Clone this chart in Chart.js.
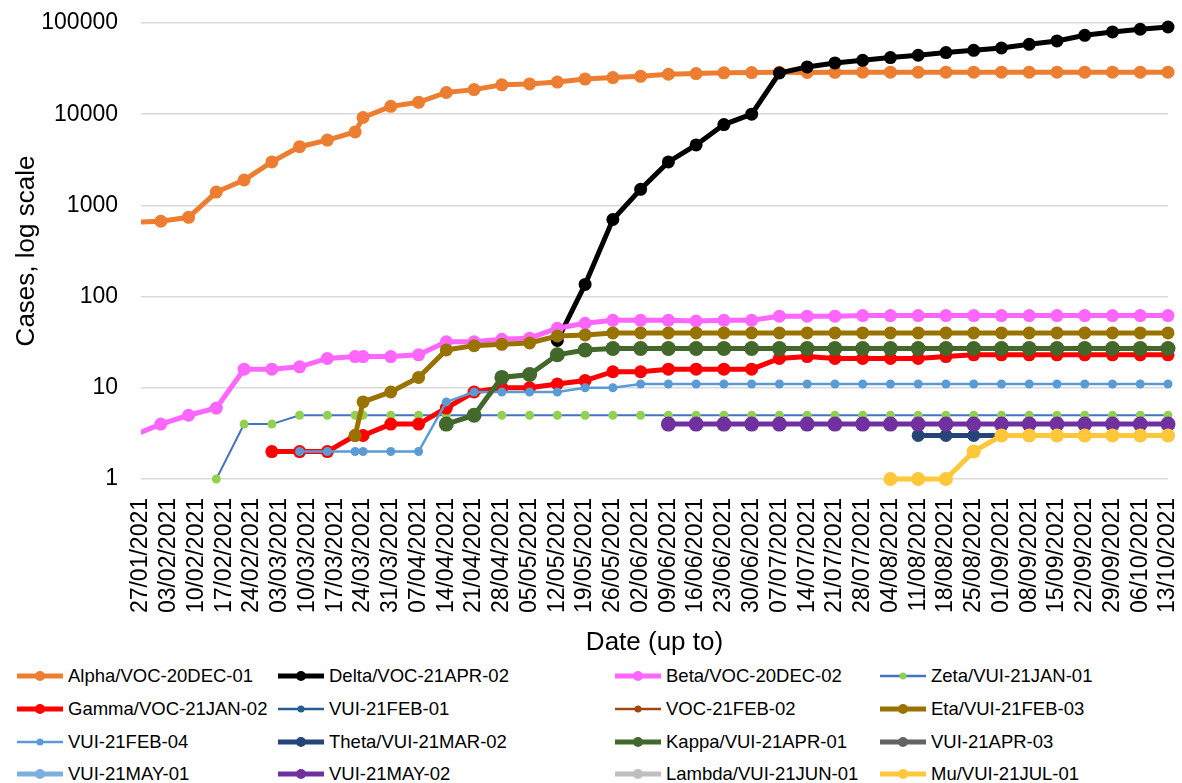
<!DOCTYPE html>
<html>
<head>
<meta charset="utf-8">
<script src="https://cdn.jsdelivr.net/npm/chart.js@4.4.0/dist/chart.umd.min.js"></script>
<style>
  html, body { margin: 0; padding: 0; background: #fff; }
  #wrap { position: relative; width: 1182px; height: 783px; font-family: "Liberation Sans", Arial, sans-serif; }
  #chart { position: absolute; left: 0; top: 0; }
  .lg { position: absolute; height: 30px; display: flex; align-items: center; font-size: 18.5px; color: #000; white-space: nowrap; }
  .lg svg { margin-right: 5px; }
</style>
</head>
<body>
<div id="wrap">
  <canvas id="chart" width="1182" height="660" style="width:1182px;height:660px"></canvas>
  <div id="legend"></div>
</div>
<script>
/* Data section */
var _ = null;
var axisStart = '27/01/2021';
var axisEnd = '13/10/2021';
var yTicks = [1, 10, 100, 1000, 10000, 100000];

var reportDates = ['25/01/2021', '01/02/2021', '08/02/2021', '15/02/2021', '22/02/2021', '01/03/2021', '08/03/2021',
    '15/03/2021', '22/03/2021', '24/03/2021', '31/03/2021', '07/04/2021', '14/04/2021', '21/04/2021', '28/04/2021',
    '05/05/2021', '12/05/2021', '19/05/2021', '26/05/2021', '02/06/2021', '09/06/2021', '16/06/2021', '23/06/2021',
    '30/06/2021', '07/07/2021', '14/07/2021', '21/07/2021', '28/07/2021', '04/08/2021', '11/08/2021', '18/08/2021',
    '25/08/2021', '01/09/2021', '08/09/2021', '15/09/2021', '22/09/2021', '29/09/2021', '06/10/2021', '13/10/2021'];

var alpha = [650, 670, 740, 1400, 1900, 3000, 4400, 5200, 6400, 9200, 12200, 13500, 17300, 18600, 21000, 21500,
    22500, 24300, 25200, 26000, 27400, 27900, 28400, 28600, 28800, 28700, 28800, 28900, 28900, 28900, 28900,
    28900, 28900, 28900, 28900, 28900, 28900, 28900, 28900];
var delta = [_, _, _, _, _, _, _, _, _, _, _, _, _, _, _, _, 33, 136, 700, 1500, 3000, 4600, 7700, 10000, 28300,
    33000, 36500, 39000, 41800, 44300, 47400, 50200, 53200, 58400, 63600, 73300, 79800, 85400, 90400];
var beta = [3, 4, 5, 6, 16, 16, 17, 21, 22, 22, 22, 23, 32, 32, 34, 35, 45, 51, 55, 55, 55, 54, 55, 55, 61, 61, 61,
    62, 62, 62, 62, 62, 62, 62, 62, 62, 62, 62, 62];
var zeta = [_, _, _, 1, 4, 4, 5, 5, 5, 5, 5, 5, 5, 5, 5, 5, 5, 5, 5, 5, 5, 5, 5, 5, 5, 5, 5, 5, 5, 5, 5, 5, 5, 5,
    5, 5, 5, 5, 5];
var gamma = [_, _, _, _, _, 2, 2, 2, 3, 3, 4, 4, 6, 9, 10, 10, 11, 12, 15, 15, 16, 16, 16, 16, 21, 22, 21, 21, 21,
    21, 22, 23, 23, 23, 23, 23, 23, 23, 23];
var eta = [_, _, _, _, _, _, _, _, 3, 7, 9, 13, 26, 29, 30, 31, 37, 38, 40, 40, 40, 40, 40, 40, 40, 40, 40, 40, 40,
    40, 40, 40, 40, 40, 40, 40, 40, 40, 40];
var feb04 = [_, _, _, _, _, _, 2, 2, 2, 2, 2, 2, 7, 9, 9, 9, 9, 10, 10, 11, 11, 11, 11, 11, 11, 11, 11, 11, 11, 11,
    11, 11, 11, 11, 11, 11, 11, 11, 11];
var theta = [_, _, _, _, _, _, _, _, _, _, _, _, _, _, _, _, _, _, _, _, _, _, _, _, _, _, _, _, _, 3, 3, 3, 3, 3,
    3, 3, 3, 3, 3];
var kappa = [_, _, _, _, _, _, _, _, _, _, _, _, 4, 5, 13, 14, 23, 26, 27, 27, 27, 27, 27, 27, 27, 27, 27, 27, 27,
    27, 27, 27, 27, 27, 27, 27, 27, 27, 27];
var may02 = [_, _, _, _, _, _, _, _, _, _, _, _, _, _, _, _, _, _, _, _, 4, 4, 4, 4, 4, 4, 4, 4, 4, 4, 4, 4, 4, 4,
    4, 4, 4, 4, 4];
var mu = [_, _, _, _, _, _, _, _, _, _, _, _, _, _, _, _, _, _, _, _, _, _, _, _, _, _, _, _, 1, 1, 1, 2, 3, 3, 3,
    3, 3, 3, 3];
var noData = [];

/* Series styles, in legend order */
var series = [
    { label: 'Alpha/VOC-20DEC-01', data: alpha, color: '#ED7D31', width: 5, radius: 6.5 },
    { label: 'Delta/VOC-21APR-02', data: delta, color: '#000000', width: 5, radius: 6.5 },
    { label: 'Beta/VOC-20DEC-02', data: beta, color: '#FF66FF', width: 5, radius: 6.5 },
    { label: 'Zeta/VUI-21JAN-01', data: zeta, color: '#4472C4', marker: '#92D050', width: 2, radius: 4.5 },
    { label: 'Gamma/VOC-21JAN-02', data: gamma, color: '#FF0000', width: 5, radius: 6.5 },
    { label: 'VUI-21FEB-01', data: noData, color: '#255E91', width: 2, radius: 4 },
    { label: 'VOC-21FEB-02', data: noData, color: '#9E480E', width: 2, radius: 4 },
    { label: 'Eta/VUI-21FEB-03', data: eta, color: '#997300', width: 5, radius: 6.5 },
    { label: 'VUI-21FEB-04', data: feb04, color: '#5B9BD5', width: 2.5, radius: 4.5 },
    { label: 'Theta/VUI-21MAR-02', data: theta, color: '#264478', width: 5, radius: 6.5 },
    { label: 'Kappa/VUI-21APR-01', data: kappa, color: '#43682B', width: 5, radius: 7.5 },
    { label: 'VUI-21APR-03', data: noData, color: '#636363', width: 5, radius: 6.5 },
    { label: 'VUI-21MAY-01', data: noData, color: '#7CAFDD', width: 5, radius: 6.5 },
    { label: 'VUI-21MAY-02', data: may02, color: '#7030A0', width: 5, radius: 7.5 },
    { label: 'Lambda/VUI-21JUN-01', data: noData, color: '#BFBFBF', width: 5, radius: 6.5 },
    { label: 'Mu/VUI-21JUL-01', data: mu, color: '#FFC83A', width: 5, radius: 7 }
];

/* Date helpers */
function toUTC(s) {
    var p = s.split('/');
    return Date.UTC(+p[2], +p[1] - 1, +p[0]);
}
var DAY = 86400000;
var t0 = toUTC(axisStart);
function dayOf(s) { return Math.round((toUTC(s) - t0) / DAY); }
function fmtDay(v) {
    var d = new Date(t0 + v * DAY);
    var dd = String(d.getUTCDate()).padStart(2, '0');
    var mm = String(d.getUTCMonth() + 1).padStart(2, '0');
    return dd + '/' + mm + '/' + d.getUTCFullYear();
}

/* Chart section */
Chart.defaults.font.family = '"Liberation Sans", Arial, sans-serif';
Chart.defaults.color = '#000';

var datasets = series.map(function (s, i) {
    var pts = [];
    s.data.forEach(function (v, k) {
        if (v !== null) pts.push({ x: dayOf(reportDates[k]), y: v });
    });
    return {
        label: s.label,
        data: pts,
        borderColor: s.color,
        backgroundColor: s.marker || s.color,
        pointBackgroundColor: s.marker || s.color,
        pointBorderColor: s.marker || s.color,
        pointBorderWidth: 0,
        pointRadius: s.radius,
        borderWidth: s.width,
        tension: 0,
        order: -i,   // later series drawn on top, like the original
        clip: { left: 0, top: 12, right: 12, bottom: 12 }
    };
});

var ctx = document.getElementById('chart').getContext('2d');
var myChart = new Chart(ctx, {
    type: 'line',
    data: { datasets: datasets },
    options: {
        responsive: false,
        animation: false,
        layout: { padding: { top: 23, right: 14, bottom: 0, left: 0 } },
        plugins: { legend: { display: false }, tooltip: { enabled: false } },
        scales: {
            x: {
                type: 'linear',
                min: 0,
                max: dayOf(axisEnd),
                grid: { display: false, drawTicks: false },
                border: { display: false },
                ticks: {
                    stepSize: 7, autoSkip: false, maxRotation: 90, minRotation: 90,
                    padding: 19, font: { size: 23 }, color: '#000',
                    callback: function (v) { return fmtDay(v); }
                },
                title: { display: true, text: 'Date (up to)', font: { size: 26 }, color: '#000', padding: { top: 0, bottom: 2 } },
                afterFit: function (s) { s.height = 181; s.paddingLeft = 0; s.paddingRight = 0; }
            },
            y: {
                type: 'logarithmic',
                min: 1,
                max: 100000,
                afterBuildTicks: function (s) { s.ticks = yTicks.map(function (v) { return { value: v }; }); },
                grid: { color: '#D9D9D9', lineWidth: 1.5, drawTicks: false },
                border: { display: false },
                ticks: { padding: 23, font: { size: 23 }, color: '#000', callback: function (v) { return String(v); } },
                title: { display: true, text: 'Cases, log scale', font: { size: 26 }, color: '#000', padding: { top: 11, bottom: 0 } },
                afterFit: function (s) { s.width = 141; s.paddingTop = 0; s.paddingBottom = 0; }
            }
        }
    }
});

/* Legend section: 4 columns like the original */
var colX = [17, 278, 615, 880];
var rowY = [676, 709, 742, 774];
var legend = document.getElementById('legend');
series.forEach(function (s, i) {
    var item = document.createElement('div');
    item.className = 'lg';
    item.style.left = colX[i % 4] + 'px';
    item.style.top = (rowY[Math.floor(i / 4)] - 15) + 'px';
    var lw = s.width >= 4 ? 5 : 2.5;
    var r = s.width >= 4 ? 5 : 3.5;
    item.innerHTML = '<svg width="46" height="14"><line x1="0" y1="7" x2="46" y2="7" stroke="' + s.color +
        '" stroke-width="' + lw + '" stroke-linecap="round"/><circle cx="23" cy="7" r="' + r + '" fill="' +
        (s.marker || s.color) + '"/></svg><span>' + s.label + '</span>';
    legend.appendChild(item);
});
</script>
</body>
</html>
